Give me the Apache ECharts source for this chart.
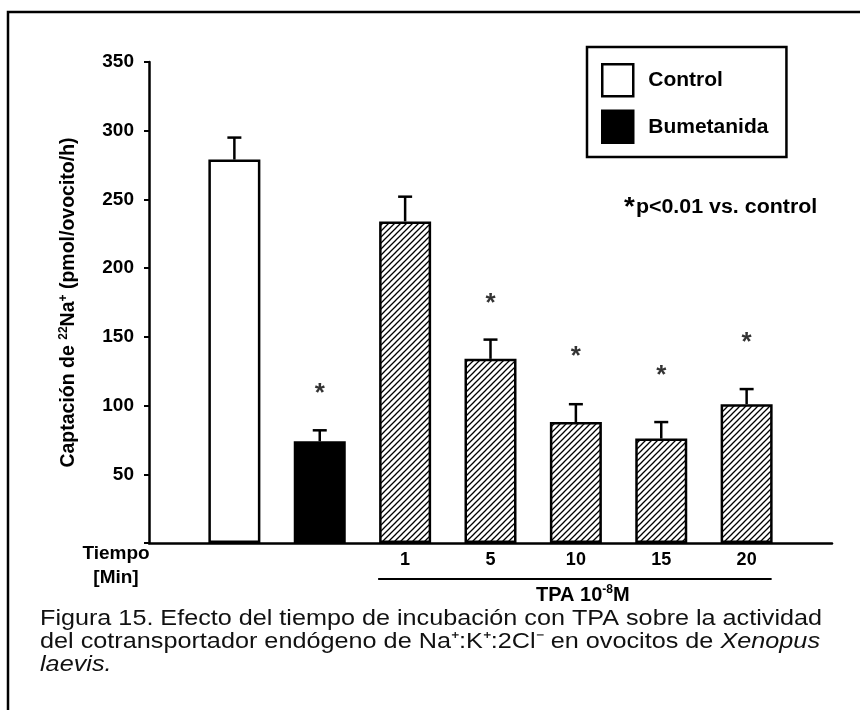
<!DOCTYPE html>
<html><head><meta charset="utf-8">
<script src="https://cdn.jsdelivr.net/npm/echarts@6/dist/echarts.min.js"></script>
<style>html,body{margin:0;padding:0;background:#fff}#c{width:860px;height:710px}</style>
</head><body><div id="c"></div>
<script>
// ---- data ----
const categories = ['', 'Control', 'Bumetanida', '1', '5', '10', '15', '20', ''];
const tickLabels = ['', '', '', '1', '5', '10', '15', '20', ''];
const controlValues = [null, 279, null, null, null, null, null, null, null];
const bumetanidaValues = [null, null, 74, null, null, null, null, null, null];
const tpaValues = [null, null, null, 234, 134, 88, 76, 101, null];
const errorValues = [null, 16, 8, 18, 14, 13, 12, 11, null];
const starValues = [null, null, 112, null, 178, 139, 125, 149, null];
const yTickValues = [0, 50, 100, 150, 200, 250, 300, 350];

const FF = '"Liberation Sans", Arial, Helvetica, sans-serif';

// hatch pattern
function hatch() {
  const s = 6, c = document.createElement('canvas');
  c.width = s; c.height = s;
  const g = c.getContext('2d');
  g.fillStyle = '#fff'; g.fillRect(0, 0, s, s);
  g.strokeStyle = '#000'; g.lineWidth = 1.3;
  g.beginPath();
  g.moveTo(-1, s + 1); g.lineTo(s + 1, -1);
  g.moveTo(-1, 1); g.lineTo(1, -1);
  g.moveTo(s - 1, s + 1); g.lineTo(s + 1, s - 1);
  g.stroke();
  return c;
}

const chart = echarts.init(document.getElementById('c'), null, {renderer: 'canvas'});

const values = categories.map((_, i) => controlValues[i] ?? bumetanidaValues[i] ?? tpaValues[i]);
const errData = [];
values.forEach((v, i) => { if (v != null && errorValues[i] != null) errData.push([i, v, errorValues[i]]); });
const starData = [];
starValues.forEach((v, i) => { if (v != null) starData.push([i, v]); });

const barBorder = {borderColor: '#000', borderWidth: 2.5};

const option = {
  animation: false,
  backgroundColor: '#fff',
  grid: {left: 149, top: 62, width: 683, height: 481, containLabel: false},
  xAxis: {
    type: 'category', data: tickLabels, boundaryGap: false,
    axisLine: {lineStyle: {color: '#000', width: 2.5}},
    axisTick: {show: false},
    axisLabel: {color: '#000', fontFamily: FF, fontWeight: 'bold', fontSize: 18, margin: 8, interval: 0},
    splitLine: {show: false}
  },
  yAxis: {
    type: 'value', min: yTickValues[0], max: yTickValues[yTickValues.length - 1], interval: 50,
    axisLine: {show: true, lineStyle: {color: '#000', width: 2.5}},
    axisTick: {show: true, length: 5, lineStyle: {color: '#000', width: 2}},
    axisLabel: {color: '#000', fontFamily: FF, fontWeight: 'bold', fontSize: 19, margin: 15,
      formatter: v => (v === 0 ? '' : String(v))},
    splitLine: {show: false},
    name: 'Captación de {sup|22}Na{sup|+} (pmol/ovocito/h)',
    nameLocation: 'middle', nameGap: 69, nameRotate: 90,
    nameTextStyle: {color: '#000', fontFamily: FF, fontWeight: 'bold', fontSize: 19.5, lineHeight: 22,
      rich: {sup: {fontSize: 12, fontWeight: 'bold', fontFamily: FF, verticalAlign: 'top', color: '#000', lineHeight: 22}}}
  },
  legend: {
    left: 587, top: 47, orient: 'vertical', selectedMode: false,
    icon: 'rect', itemWidth: 31, itemHeight: 32, itemGap: 12,
    padding: [16, 18, 13, 14],
    borderColor: '#000', borderWidth: 2.5,
    textStyle: {color: '#000', fontFamily: FF, fontWeight: 'bold', fontSize: 21, padding: [0, 0, 0, 10]},
    data: [
      {name: 'Control', itemStyle: {color: '#fff', borderColor: '#000', borderWidth: 2.5}},
      {name: 'Bumetanida', itemStyle: {color: '#000', borderColor: '#000', borderWidth: 2.5}}
    ]
  },
  series: [
    {name: 'Control', type: 'bar', data: controlValues, barWidth: 52, barGap: '-100%',
      itemStyle: Object.assign({color: '#fff'}, barBorder)},
    {name: 'Bumetanida', type: 'bar', data: bumetanidaValues, barWidth: 52, barGap: '-100%',
      itemStyle: Object.assign({color: '#000'}, barBorder)},
    {name: 'TPA', type: 'bar', data: tpaValues, barWidth: 52, barGap: '-100%',
      itemStyle: Object.assign({color: {image: hatch(), repeat: 'repeat'}}, barBorder)},
    {name: 'err', type: 'custom', data: errData, z: 5,
      renderItem: (params, api) => {
        const x = api.value(0), v = api.value(1), e = api.value(2);
        const p0 = api.coord([x, v]);
        const p1 = api.coord([x, v + e]);
        const hw = 7;
        return {type: 'group', children: [
          {type: 'line', shape: {x1: p0[0], y1: p0[1], x2: p1[0], y2: p1[1]}, style: {stroke: '#000', lineWidth: 2.5}},
          {type: 'line', shape: {x1: p1[0] - hw, y1: p1[1], x2: p1[0] + hw, y2: p1[1]}, style: {stroke: '#000', lineWidth: 2.5}}
        ]};
      }},
    {name: 'stars', type: 'scatter', data: starData, symbolSize: 1, itemStyle: {color: 'rgba(0,0,0,0)'},
      label: {show: true, position: 'inside', formatter: '*', color: '#000', fontFamily: FF, fontWeight: 'bold', fontSize: 26, offset: [0, 5]}}
  ]
};
chart.setOption(option);

// ---- annotation graphics ----
const px = i => chart.convertToPixel({xAxisIndex: 0}, i);
const x3 = px(3), x7 = px(7);
const els = [];
// frame
els.push({type: 'polyline', shape: {points: [[8, 710], [8, 12], [860, 12]]}, style: {stroke: '#000', lineWidth: 2.5, fill: null}});
// Tiempo [Min]
els.push({type: 'text', x: 116, y: 554, style: {text: 'Tiempo', font: 'bold 19px ' + FF, fill: '#000', align: 'center', verticalAlign: 'middle'}});
els.push({type: 'text', x: 116, y: 578, style: {text: '[Min]', font: 'bold 19px ' + FF, fill: '#000', align: 'center', verticalAlign: 'middle'}});
// TPA underline and label
els.push({type: 'line', shape: {x1: x3 - 27, y1: 579, x2: x7 + 25, y2: 579}, style: {stroke: '#000', lineWidth: 2}});
els.push({type: 'text', x: (x3 + x7) / 2 + 7, y: 595, style: {
  text: '{n|TPA 10}{s|-8}{n|M}', align: 'center', verticalAlign: 'middle',
  rich: {n: {font: 'bold 20px ' + FF, fill: '#000', lineHeight: 22}, s: {font: 'bold 12px ' + FF, fill: '#000', verticalAlign: 'top', lineHeight: 22}}}});
// p-value note
els.push({type: 'text', x: 624, y: 207, scaleX: 1.07, style: {
  text: '{s|*}{n|p<0.01 vs. control}', align: 'left', verticalAlign: 'middle',
  rich: {n: {font: 'bold 20px ' + FF, fill: '#000', lineHeight: 24}, s: {font: 'bold 26px ' + FF, fill: '#000', verticalAlign: 'top', lineHeight: 24, padding: [0, 1, 0, 0]}}}});

// caption lines, stretched to the reference line widths
const measure = document.createElement('canvas').getContext('2d');
const CAP = 22;
let lastScale = 1;
function capLine(parts, x0, x1, y) {
  let total = 0, text = '';
  parts.forEach(p => {
    measure.font = (p.i ? 'italic ' : '') + CAP + 'px ' + FF;
    total += measure.measureText(p.t).width;
    text += '{' + (p.i ? 'i' : 'n') + '|' + p.t + '}';
  });
  const sx = x1 ? (x1 - x0) / total : lastScale;
  lastScale = sx;
  els.push({type: 'text', x: x0, y: y, scaleX: sx, style: {text: text, align: 'left', verticalAlign: 'middle',
    rich: {n: {font: CAP + 'px ' + FF, fill: '#111', lineHeight: 23}, i: {font: 'italic ' + CAP + 'px ' + FF, fill: '#111', lineHeight: 23}}}});
}
capLine([{t: 'Figura 15. Efecto del tiempo de incubación con TPA sobre la actividad'}], 40, 822, 619);
capLine([{t: 'del cotransportador endógeno de Na⁺:K⁺:2Cl⁻ en ovocitos de '}, {t: 'Xenopus', i: true}], 40, 820, 642);
capLine([{t: 'laevis.', i: true}], 40, null, 665);

chart.setOption({graphic: {elements: els}});
</script>
</body></html>
